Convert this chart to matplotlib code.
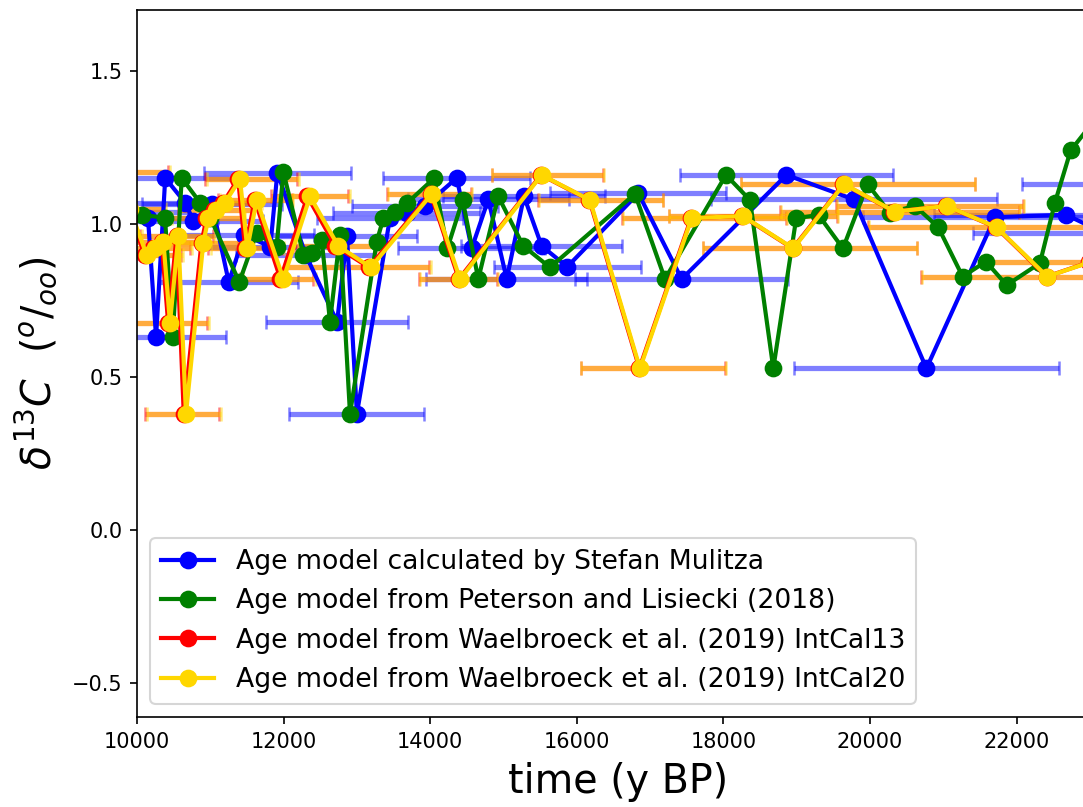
import matplotlib
matplotlib.use("Agg")
import matplotlib.pyplot as plt
import numpy as np

# ---------------- data ----------------
# Age model calculated by Stefan Mulitza (blue)
mul_age = [9750, 10150, 10260, 10385, 10655, 10770, 11023, 11252, 11460, 11819, 11915,
           12300, 12730, 12865, 13000, 13452, 13679, 13930, 14362, 14566, 14793,
           15044, 15280, 15521, 15870, 16840, 17431, 18860, 19782, 20770, 21705,
           22674, 23200, 24000]
mul_d13c = [1.04, 1.02, 0.63, 1.15, 1.07, 1.01, 1.065, 0.81, 0.964, 0.926, 1.168,
            0.90, 0.68, 0.96, 0.38, 1.02, 1.035, 1.06, 1.15, 0.92, 1.08,
            0.82, 1.09, 0.928, 0.86, 1.10, 0.82, 1.16, 1.08, 0.528, 1.022,
            1.03, 0.97, 1.13]
mul_err = [950, 950, 950, 950, 950, 950, 950, 950, 950, 950, 1000,
           950, 970, 950, 920, 1000, 1000, 1000, 1000, 1000, 1100,
           1100, 1100, 1100, 1000, 1200, 1450, 1450, 1950, 1810, 1800,
           1800, 1800, 1930]

# Age model from Peterson and Lisiecki (2018) (green)
pl_age = [9850, 10064, 10382, 10487, 10610, 10860, 11000, 11396, 11633, 11905, 11997,
          12270, 12383, 12520, 12633, 12770, 12906, 13270, 13361, 13520, 13679,
          14052, 14234, 14443, 14656, 14929, 15270, 15634, 16794, 17203, 18035,
          18363, 18681, 18994, 19299, 19631, 19967, 20268, 20614, 20932, 21264,
          21582, 21865, 22319, 22524, 22738, 23100]
pl_d13c = [1.05, 1.03, 1.02, 0.63, 1.15, 1.07, 1.02, 0.81, 0.97, 0.926, 1.17,
           0.90, 0.905, 0.948, 0.68, 0.964, 0.379, 0.942, 1.018, 1.04, 1.067,
           1.149, 0.92, 1.078, 0.82, 1.09, 0.928, 0.858, 1.098, 0.82, 1.16,
           1.078, 0.528, 1.019, 1.029, 0.92, 1.13, 1.037, 1.059, 0.989, 0.828,
           0.877, 0.80, 0.872, 1.07, 1.24, 1.35]

# Age model from Waelbroeck et al. (2019) IntCal20 (gold)
ic20_age = [9500, 9900, 10132, 10246, 10360, 10450, 10564, 10668, 10905, 10973, 11078,
            11200, 11405, 11505, 11633, 11997, 12360, 12746, 13190, 14021, 14407,
            15520, 16180, 16862, 17568, 18263, 18954, 19646, 20341, 21046, 21727,
            22418, 23000]
ic20_d13c = [1.17, 1.05, 0.899, 0.92, 0.942, 0.677, 0.959, 0.379, 0.939, 1.018, 1.046,
             1.07, 1.146, 0.92, 1.078, 0.82, 1.09, 0.928, 0.858, 1.098, 0.82,
             1.16, 1.078, 0.528, 1.019, 1.026, 0.92, 1.13, 1.04, 1.059, 0.989,
             0.828, 0.875]
ic20_err_lo = [950, 500, 500, 500, 500, 500, 500, 530, 500, 500, 500,
               500, 450, 500, 500, 550, 500, 550, 1150, 600, 550,
               670, 700, 800, 940, 1000, 1230, 1400, 1560, 1500, 1740,
               1710, 1360]
ic20_err_hi = [950, 500, 500, 500, 500, 530, 500, 480, 500, 500, 500,
               500, 800, 500, 500, 450, 550, 550, 820, 550, 520,
               850, 1000, 1170, 1300, 1300, 1690, 1790, 1700, 1050, 1800,
               1800, 1800]

# Age model from Waelbroeck et al. (2019) IntCal13 (red): same samples, slightly shifted ages
ic13_shift = [-30, -30, -25, -25, -25, -25, -25, -30, -25, -25, -25,
              -25, -25, -30, -25, -40, -35, -40, -25, -15, -15,
              -8, -8, -8, -8, -8, -8, -8, -8, -8, -8,
              -8, -8]
ic13_age = [a + s for a, s in zip(ic20_age, ic13_shift)]
ic13_d13c = list(ic20_d13c)
ic13_err_lo = list(ic20_err_lo)
ic13_err_hi = list(ic20_err_hi)

labels = ["Age model calculated by Stefan Mulitza",
          "Age model from Peterson and Lisiecki (2018)",
          "Age model from Waelbroeck et al. (2019) IntCal13",
          "Age model from Waelbroeck et al. (2019) IntCal20"]

# ---------------- plot ----------------
DPI = 150
fig = plt.figure(figsize=(1083 / DPI, 807 / DPI), dpi=DPI)
ax = fig.add_axes([137 / 1083, 1 - 717 / 807, (1100 - 137) / 1083, (717 - 10) / 807])

eb_kw = dict(fmt='none', alpha=0.5, capsize=3.2, elinewidth=2.5, capthick=1.2)
ax.errorbar(mul_age, mul_d13c, xerr=mul_err, ecolor='blue', **eb_kw)
ax.errorbar(ic13_age, ic13_d13c, xerr=[ic13_err_lo, ic13_err_hi], ecolor='red', **eb_kw)
ax.errorbar(ic20_age, ic20_d13c, xerr=[ic20_err_lo, ic20_err_hi], ecolor='gold', **eb_kw)

ln_kw = dict(marker='o', markersize=7.5, linewidth=2)
ax.plot(mul_age, mul_d13c, color='blue', label=labels[0], **ln_kw)
ax.plot(pl_age, pl_d13c, color='green', label=labels[1], **ln_kw)
ax.plot(ic13_age, ic13_d13c, color='red', label=labels[2], **ln_kw)
ax.plot(ic20_age, ic20_d13c, color='gold', label=labels[3], **ln_kw)

ax.set_xlim(10000, 10000 + (1100 - 137) * 13.643)
ax.set_ylim(-0.611, 1.699)
ax.set_xticks([10000, 12000, 14000, 16000, 18000, 20000, 22000])
ax.set_yticks([-0.5, 0.0, 0.5, 1.0, 1.5])
ax.tick_params(labelsize=10)

ax.set_xlabel("time (y BP)", fontsize=19, labelpad=5)
ax.set_ylabel(r"$\delta^{13}C\ \ (^{o}/_{oo})$", fontsize=19, labelpad=6)

ax.legend(loc='lower left', fontsize=12.8)

fig.savefig("out.png", dpi=DPI)
